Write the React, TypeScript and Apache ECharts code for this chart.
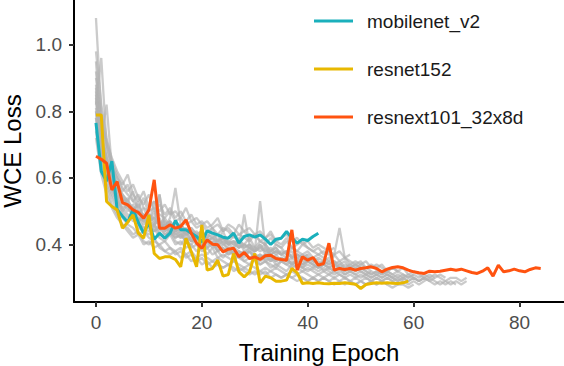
import React, { useEffect, useRef } from "react";
import * as echarts from "echarts";

const mobilenet = [0.765,0.62,0.59,0.65,0.505,0.485,0.467,0.506,0.466,0.434,0.466,0.416,0.434,0.419,0.434,0.472,0.444,0.444,0.434,0.424,0.408,0.441,0.434,0.429,0.422,0.419,0.434,0.404,0.424,0.429,0.422,0.429,0.416,0.400,0.416,0.419,0.439,0.419,0.404,0.416,0.412,0.424,0.434];
const resnet152 = [0.789,0.789,0.529,0.514,0.504,0.449,0.467,0.489,0.434,0.419,0.489,0.373,0.358,0.363,0.363,0.355,0.333,0.419,0.378,0.333,0.459,0.323,0.328,0.353,0.305,0.31,0.373,0.318,0.303,0.318,0.373,0.285,0.305,0.300,0.29,0.29,0.293,0.328,0.315,0.283,0.285,0.283,0.285,0.283,0.282,0.284,0.283,0.285,0.283,0.281,0.268,0.280,0.283,0.285,0.284,0.285,0.284,0.283,0.285,0.29];
const resnext = [0.665,0.656,0.644,0.564,0.589,0.526,0.519,0.504,0.496,0.479,0.504,0.594,0.449,0.449,0.459,0.449,0.454,0.474,0.434,0.404,0.389,0.414,0.401,0.399,0.378,0.386,0.389,0.363,0.376,0.358,0.363,0.355,0.366,0.368,0.358,0.355,0.353,0.444,0.323,0.363,0.353,0.361,0.338,0.343,0.404,0.323,0.328,0.325,0.328,0.323,0.328,0.33,0.333,0.328,0.318,0.326,0.331,0.333,0.33,0.323,0.318,0.315,0.313,0.32,0.318,0.32,0.323,0.326,0.323,0.326,0.321,0.316,0.313,0.32,0.33,0.305,0.338,0.318,0.321,0.326,0.321,0.318,0.325,0.33,0.328];

const g1 = [1.08,0.80,0.68,0.62,0.58,0.55,0.53,0.56,0.50,0.49,0.47,0.50,0.46,0.45,0.47,0.44,0.45,0.43,0.44,0.42,0.43,0.41,0.42,0.40,0.41,0.40,0.41,0.39,0.40,0.39,0.38,0.40,0.38,0.39,0.37,0.38,0.37,0.38,0.36,0.37,0.36];
const g2 = [0.95,0.74,0.66,0.60,0.57,0.54,0.52,0.50,0.52,0.48,0.47,0.46,0.48,0.44,0.45,0.43,0.44,0.42,0.41,0.42,0.40,0.41,0.39,0.40,0.38,0.39,0.38,0.37,0.38,0.36,0.37,0.36,0.37,0.35,0.36,0.35,0.36,0.34,0.35,0.34,0.35,0.34,0.33,0.34,0.33,0.34,0.33,0.32,0.33,0.32,0.33,0.32,0.31,0.32,0.31,0.32,0.31,0.32,0.31,0.30,0.31,0.30,0.31,0.30,0.31,0.30,0.29,0.30,0.30,0.29,0.30];
const g3 = [0.88,0.72,0.82,0.63,0.60,0.56,0.58,0.53,0.51,0.54,0.49,0.48,0.55,0.46,0.47,0.45,0.46,0.44,0.45,0.43,0.44,0.42,0.43,0.41,0.44,0.40,0.41,0.40,0.39,0.40,0.38,0.53,0.39,0.37,0.38,0.37,0.36,0.37,0.36,0.35,0.36,0.35,0.34,0.35,0.34,0.35,0.33,0.34,0.33,0.34,0.33];
const g4 = [0.84,0.70,0.64,0.59,0.55,0.53,0.50,0.52,0.48,0.47,0.49,0.46,0.47,0.45,0.48,0.57,0.46,0.44,0.45,0.43,0.44,0.42,0.45,0.41,0.42,0.40,0.43,0.41,0.40,0.42,0.39,0.41,0.40,0.38,0.40,0.39,0.37,0.39,0.38,0.37,0.38,0.36,0.37,0.36,0.35,0.37,0.35,0.36,0.34,0.35,0.34,0.35,0.33,0.34,0.33,0.32,0.33,0.32];
const g5 = [0.80,0.66,0.60,0.57,0.53,0.51,0.49,0.47,0.48,0.45,0.46,0.44,0.45,0.43,0.44,0.42,0.43,0.41,0.42,0.40,0.41,0.39,0.40,0.38,0.40,0.39,0.37,0.38,0.37,0.38,0.36,0.37,0.36,0.37,0.35,0.36,0.35,0.36,0.35,0.34,0.36,0.35,0.34,0.35,0.36,0.37,0.45,0.36,0.35,0.34,0.35,0.33,0.34,0.33,0.34,0.32,0.33,0.32,0.33,0.31,0.32,0.31,0.30,0.31,0.30,0.31,0.30];
const g6 = [0.74,0.63,0.57,0.52,0.49,0.46,0.45,0.43,0.44,0.41,0.40,0.42,0.39,0.38,0.39,0.37,0.38,0.36,0.37,0.35,0.36,0.34,0.35,0.34,0.33,0.34,0.33,0.32,0.33,0.32,0.31,0.32,0.31,0.32,0.31,0.30,0.31,0.30,0.31,0.30,0.29,0.30,0.29,0.30,0.29,0.30,0.29,0.30,0.29,0.28,0.29,0.28,0.29,0.28,0.29,0.28];
const g7 = [0.90,0.78,0.70,0.64,0.60,0.58,0.61,0.55,0.53,0.56,0.51,0.53,0.50,0.52,0.49,0.50,0.48,0.51,0.47,0.48,0.46,0.47,0.45,0.46,0.44,0.46,0.45,0.43,0.44,0.45,0.43,0.44,0.42,0.43,0.41,0.42,0.43,0.41,0.42,0.40,0.41,0.39,0.40,0.39,0.38,0.39];
const g8 = [0.78,0.68,0.62,0.58,0.54,0.50,0.52,0.48,0.50,0.46,0.47,0.45,0.55,0.44,0.45,0.43,0.42,0.44,0.41,0.42,0.40,0.39,0.41,0.38,0.39,0.37,0.38,0.37,0.36,0.38,0.36,0.37,0.35,0.36,0.34,0.35,0.36,0.34,0.35,0.33,0.34,0.33,0.34,0.32,0.33,0.32,0.33,0.31,0.32,0.31,0.32,0.31,0.30,0.31,0.30,0.31,0.30,0.29,0.30,0.29,0.30,0.29,0.30];
const g9 = [0.86,0.72,0.66,0.61,0.57,0.54,0.52,0.50,0.49,0.51,0.47,0.48,0.46,0.47,0.45,0.44,0.46,0.43,0.44,0.42,0.43,0.41,0.42,0.43,0.40,0.41,0.40,0.42,0.39,0.40,0.38,0.39,0.40,0.38,0.39,0.37];
const g10 = [0.76,0.64,0.58,0.54,0.50,0.48,0.46,0.45,0.43,0.44,0.42,0.41,0.40,0.41,0.39,0.38,0.39,0.37,0.38,0.36,0.37,0.36,0.35,0.36,0.35,0.34,0.35,0.34,0.33,0.34,0.33,0.32,0.33,0.32,0.33,0.32,0.31,0.32,0.31,0.32,0.31,0.30,0.31,0.30,0.31,0.30,0.31,0.30,0.29,0.30,0.29,0.30,0.29,0.30,0.29,0.30,0.29,0.28,0.29,0.28,0.29,0.28,0.29,0.30,0.29,0.28,0.29,0.28,0.29,0.28,0.29];
const g11 = [0.82,0.96,0.70,0.63,0.58,0.55,0.53,0.51,0.50,0.48,0.49,0.47,0.46,0.48,0.45,0.46,0.44,0.45,0.43,0.44,0.42,0.43,0.42,0.41,0.42,0.40,0.41,0.39,0.40,0.39,0.38,0.39,0.38,0.37,0.38,0.37,0.38,0.36,0.37,0.36,0.37,0.35,0.36,0.35,0.34,0.35,0.34,0.35,0.33,0.34,0.33];
const g12 = [0.80,0.70,0.63,0.58,0.55,0.52,0.54,0.49,0.47,0.49,0.45,0.46,0.44,0.46,0.43,0.44,0.42,0.43,0.41,0.43,0.40,0.41,0.40,0.39,0.41,0.38,0.39,0.38,0.37,0.39,0.37,0.36,0.37,0.36,0.35,0.36,0.35,0.34,0.36,0.34,0.35,0.34,0.33,0.34,0.33,0.34,0.33,0.32,0.33,0.32,0.33,0.32,0.31,0.32,0.31,0.32,0.31,0.30,0.31,0.30,0.31];
const g13 = [0.83,0.69,0.61,0.56,0.53,0.50,0.48,0.50,0.46,0.45,0.44,0.46,0.43,0.42,0.44,0.41,0.40,0.42,0.39,0.40,0.38,0.39,0.37,0.38,0.36,0.38,0.37,0.36,0.35,0.36,0.35,0.34,0.35,0.34,0.33,0.35,0.34,0.33,0.34,0.33,0.32,0.33,0.32,0.33,0.32,0.31,0.32,0.31,0.32,0.31,0.30,0.31,0.30,0.31,0.30,0.31,0.30,0.29,0.30,0.29,0.30,0.29,0.30,0.29,0.28,0.29,0.28,0.29,0.28];
const g14 = [0.92,0.76,0.71,0.66,0.62,0.59,0.56,0.58,0.54,0.52,0.55,0.50,0.52,0.49,0.51,0.48,0.50,0.47,0.49,0.46,0.47,0.45,0.46,0.48,0.44,0.45,0.43,0.46,0.44,0.42,0.43,0.41,0.42,0.44,0.41,0.40,0.42,0.39,0.40,0.41,0.39,0.38,0.39,0.37,0.38,0.37,0.38,0.36,0.37];
const g15 = [0.78,0.65,0.59,0.55,0.52,0.49,0.47,0.49,0.45,0.44,0.43,0.45,0.42,0.41,0.43,0.40,0.41,0.39,0.40,0.38,0.39,0.37,0.39,0.36,0.37,0.36,0.35,0.37,0.35,0.34,0.36,0.34,0.35,0.33,0.34,0.33,0.32,0.34,0.33,0.32,0.33,0.32,0.31,0.32,0.31,0.32,0.31,0.30,0.31,0.30,0.31,0.30,0.29,0.30,0.29,0.30,0.29,0.30,0.29];
const g16 = [0.87,0.73,0.65,0.60,0.56,0.53,0.51,0.49,0.50,0.47,0.46,0.53,0.45,0.46,0.44,0.45,0.43,0.44,0.42,0.43,0.41,0.42,0.40,0.41,0.42,0.40,0.39,0.41,0.38,0.39,0.38,0.40,0.37,0.38,0.39,0.37,0.38,0.36,0.37,0.36,0.37];
const g17 = [0.81,0.67,0.62,0.57,0.54,0.51,0.52,0.48,0.47,0.48,0.45,0.44,0.46,0.43,0.44,0.42,0.43,0.41,0.40,0.42,0.39,0.40,0.41,0.38,0.39,0.37,0.38,0.36,0.37,0.38,0.36,0.35,0.36,0.35,0.37,0.35,0.34,0.35,0.34,0.33,0.35,0.34,0.33,0.34,0.33,0.32,0.34,0.33,0.32,0.33,0.32,0.31,0.32,0.31,0.32,0.31,0.30,0.31,0.30,0.31,0.30,0.29,0.30,0.29,0.30];
const g18 = [0.85,0.71,0.64,0.60,0.57,0.54,0.52,0.50,0.53,0.48,0.47,0.48,0.46,0.45,0.47,0.44,0.45,0.43,0.44,0.42,0.44,0.41,0.42,0.40,0.42,0.41,0.40,0.39,0.49,0.40,0.39,0.38,0.39,0.37,0.38,0.37,0.38,0.36,0.37,0.36,0.35,0.36,0.35,0.34,0.35,0.34,0.35,0.33,0.34,0.33,0.34,0.33,0.32];
const g19 = [0.98,0.82,0.72,0.65,0.61,0.57,0.55,0.53,0.55,0.51,0.50,0.51,0.49,0.48,0.50,0.47,0.48,0.46,0.47,0.45,0.46,0.44,0.45,0.43,0.45,0.44,0.42,0.43,0.42,0.41,0.43,0.41,0.40,0.42,0.40,0.39,0.41,0.39,0.38,0.40,0.39,0.38,0.37,0.38,0.37,0.36];
const g20 = [0.72,0.61,0.55,0.51,0.48,0.46,0.44,0.42,0.43,0.40,0.41,0.39,0.40,0.38,0.37,0.38,0.36,0.37,0.35,0.36,0.34,0.35,0.33,0.34,0.33,0.34,0.32,0.33,0.32,0.31,0.32,0.31,0.32,0.30,0.31,0.30,0.31,0.30,0.29,0.30,0.29,0.30,0.29,0.30,0.29,0.28,0.29,0.28,0.29,0.28,0.29,0.28,0.29,0.28,0.29,0.28,0.27,0.28,0.28,0.27,0.28];
const grayRuns = [g1, g2, g3, g4, g5, g6, g7, g8, g9, g10, g11, g12, g13, g14, g15, g16, g17, g18, g19, g20];

const xTicks = [0, 20, 40, 60, 80];
const yTicks = [0.4, 0.6, 0.8, 1.0];

const colored = [
  { name: "mobilenet_v2", values: mobilenet, color: "#1AB0BC" },
  { name: "resnet152", values: resnet152, color: "#E8B800" },
  { name: "resnext101_32x8d", values: resnext, color: "#FF5310" },
];

const toPairs = (arr: number[]) => arr.map((v, i) => [i, v]);

export default function App() {
  const ref = useRef<HTMLDivElement>(null);
  useEffect(() => {
    if (!ref.current) return;
    const chart = echarts.init(ref.current, null, { renderer: "svg" });
    const font = "Liberation Sans, Arial, sans-serif";
    const series: any[] = [];
    grayRuns.forEach((g, i) => {
      series.push({
        name: "other" + i,
        type: "line",
        data: toPairs(g),
        showSymbol: false,
        lineStyle: { color: "rgba(178,178,178,0.68)", width: 2.3 },
        silent: true,
        z: 1,
      });
    });
    colored.forEach((c) => {
      series.push({
        name: c.name,
        type: "line",
        data: toPairs(c.values),
        showSymbol: false,
        color: c.color,
        lineStyle: { color: c.color, width: 3 },
        z: 3,
      });
    });
    chart.setOption({
      animation: false,
      backgroundColor: "#ffffff",
      grid: { left: 74, right: 0, top: 0, bottom: 64, containLabel: false, outerBoundsMode: "none" },
      legend: {
        data: colored.map((c) => ({ name: c.name, icon: "rect" })),
        orient: "vertical",
        left: 309,
        top: 6,
        itemWidth: 39,
        itemHeight: 3,
        itemGap: 28,
        textStyle: { fontFamily: font, fontSize: 19, color: "#1a1a1a", padding: [0, 0, 0, 9], lineHeight: 20 },
      },
      xAxis: {
        type: "value",
        min: -4.15,
        max: 88.4,
        name: "Training Epoch",
        nameLocation: "middle",
        nameGap: 38,
        nameTextStyle: { fontFamily: font, fontSize: 24, color: "#000" },
        splitLine: { show: false },
        axisLine: { show: true, onZero: false, lineStyle: { color: "#000", width: 2 } },
        axisTick: { show: true, customValues: xTicks, length: 5, lineStyle: { color: "#333", width: 2 } },
        axisLabel: { customValues: xTicks, fontFamily: font, fontSize: 19, color: "#4D4D4D", margin: 11 },
      },
      yAxis: {
        type: "value",
        min: 0.2274,
        max: 1.134,
        name: "WCE Loss",
        nameLocation: "middle",
        nameGap: 49,
        nameRotate: 90,
        nameTextStyle: { fontFamily: font, fontSize: 24, color: "#000" },
        splitLine: { show: false },
        axisLine: { show: true, onZero: false, lineStyle: { color: "#000", width: 2 } },
        axisTick: { show: true, customValues: yTicks, length: 5, lineStyle: { color: "#333", width: 2 } },
        axisLabel: {
          customValues: yTicks,
          fontFamily: font,
          fontSize: 19,
          color: "#4D4D4D",
          margin: 12,
          formatter: (v: number) => v.toFixed(1),
        },
      },
      series,
    });
    return () => chart.dispose();
  }, []);
  return <div ref={ref} style={{ width: 564, height: 366, position: "absolute", left: 0, top: 0 }} />;
}
